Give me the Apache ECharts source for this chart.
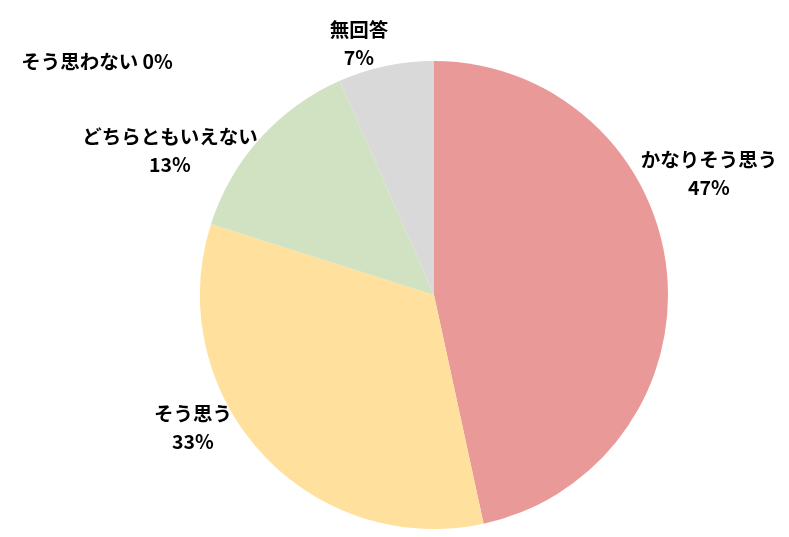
<!DOCTYPE html>
<html>
<head>
<meta charset="utf-8">
<script src="https://cdn.jsdelivr.net/npm/echarts@6/dist/echarts.min.js"></script>
<style>
  html, body { margin: 0; padding: 0; background: #fff; }
  #chart { width: 789px; height: 537px; }
</style>
</head>
<body>
<div id="chart"></div>
<script>
// answers, clockwise from 12 o'clock
const categories = ['かなりそう思う', 'そう思う', 'どちらともいえない', 'そう思わない', '無回答'];
const shares = [46.6, 33.3, 13.5, 0, 6.6];

const COLORS = ['#EA9999', '#FFE09C', '#D0E2C1', '#FFFFFF', '#D9D9D9'];
// label block centres (Excel "best fit" placement)
const LABEL_XY = [[709, 174], [193, 428], [170, 151], [97, 62], [359, 44]];

const chart = echarts.init(document.getElementById('chart'));

chart.setOption({
    animation: false,
    color: COLORS,
    series: [{
        type: 'pie',
        center: [434, 295],
        radius: 234,
        startAngle: 90,
        clockwise: true,
        percentPrecision: 0,
        minShowLabelAngle: -1,
        itemStyle: { borderWidth: 0 },
        labelLine: { show: false },
        label: {
            show: true,
            position: 'outside',
            formatter: '{b}\n{d}%',
            fontFamily: '"Noto Sans CJK JP", "Noto Sans", sans-serif',
            fontWeight: 'bold',
            fontSize: 19.5,
            lineHeight: 28,
            color: '#000',
            align: 'center',
            overflow: 'none'
        },
        labelLayout: p => ({
            x: LABEL_XY[p.dataIndex][0],
            y: LABEL_XY[p.dataIndex][1],
            align: 'center',
            verticalAlign: 'middle'
        }),
        data: categories.map((name, i) => ({
            name,
            value: shares[i],
            label: shares[i] === 0 ? { formatter: '{b} {d}%' } : undefined
        }))
    }]
});

window.addEventListener('resize', () => chart.resize());
</script>
</body>
</html>
